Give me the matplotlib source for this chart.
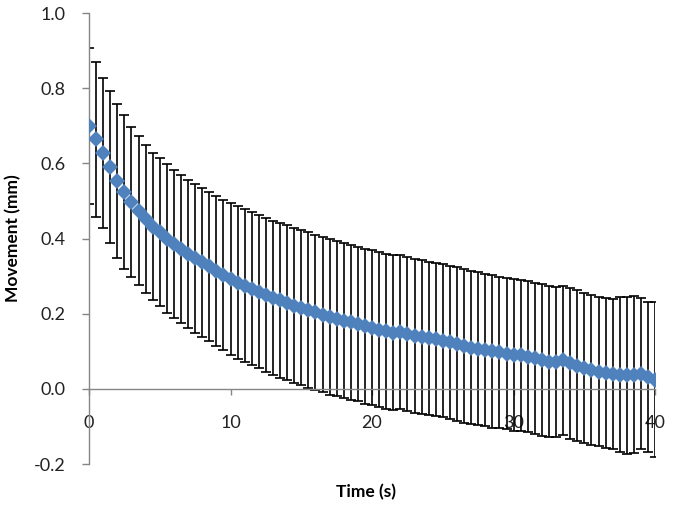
import numpy as np
from matplotlib import pyplot as plt
from matplotlib import rcParams

rcParams['font.family'] = ['Lato', 'DejaVu Sans']

# time points (s), one every 0.5 s
time = np.arange(0, 40.5, 0.5)

# mean movement (mm)
movement = [0.700, 0.664, 0.627, 0.590, 0.553, 0.524, 0.497, 0.474, 0.452, 0.432,
            0.418, 0.400, 0.386, 0.372, 0.360, 0.348, 0.337, 0.326, 0.314, 0.303,
            0.292, 0.283, 0.275, 0.267, 0.259, 0.251, 0.243, 0.236, 0.229, 0.222,
            0.216, 0.210, 0.204, 0.198, 0.192, 0.187, 0.182, 0.177, 0.172, 0.167,
            0.163, 0.158, 0.153, 0.150, 0.152, 0.146, 0.141, 0.138, 0.135, 0.132,
            0.128, 0.124, 0.120, 0.114, 0.110, 0.107, 0.104, 0.100, 0.097, 0.094,
            0.091, 0.089, 0.086, 0.082, 0.077, 0.073, 0.072, 0.076, 0.068, 0.062,
            0.055, 0.050, 0.046, 0.043, 0.040, 0.038, 0.036, 0.038, 0.041, 0.032,
            0.025]

# standard deviation (mm)
std_dev = [0.207, 0.206, 0.200, 0.203, 0.205, 0.206, 0.200, 0.198, 0.197, 0.196,
           0.197, 0.198, 0.197, 0.196, 0.197, 0.198, 0.199, 0.198, 0.199, 0.200,
           0.202, 0.203, 0.204, 0.203, 0.204, 0.205, 0.205, 0.206, 0.206, 0.205,
           0.206, 0.207, 0.206, 0.207, 0.207, 0.206, 0.207, 0.206, 0.205, 0.206,
           0.206, 0.207, 0.206, 0.207, 0.205, 0.206, 0.206, 0.205, 0.204, 0.203,
           0.204, 0.203, 0.204, 0.205, 0.204, 0.203, 0.202, 0.203, 0.202, 0.201,
           0.202, 0.201, 0.200, 0.201, 0.202, 0.201, 0.200, 0.199, 0.200, 0.201,
           0.200, 0.199, 0.198, 0.199, 0.200, 0.207, 0.209, 0.208, 0.201, 0.200,
           0.205]

grey = '#868686'

fig = plt.figure(figsize=(6.74, 5.05), dpi=100)
ax = fig.add_axes([0.132, 0.081, 0.840, 0.893])

ax.errorbar(time, movement, yerr=std_dev, fmt='none', ecolor='black',
            elinewidth=1.2, capsize=3.6, capthick=1.2, zorder=2)
ax.plot(time, movement, ls='none', marker='D', ms=8.3, color='#4f81bd',
        markeredgewidth=0, zorder=3)

ax.set_xlim(0, 40)
ax.set_ylim(-0.2, 1.0)
ax.set_xticks([0, 10, 20, 30, 40])
ax.set_yticks(np.arange(-0.2, 1.01, 0.2))
ax.set_yticklabels(['-0.2', '0.0', '0.2', '0.4', '0.6', '0.8', '1.0'])

ax.spines['top'].set_visible(False)
ax.spines['right'].set_visible(False)
ax.spines['bottom'].set_position(('data', 0))
for s in ('left', 'bottom'):
    ax.spines[s].set_color(grey)
    ax.spines[s].set_linewidth(1.0)
ax.tick_params(axis='y', direction='out', length=5, width=1, color=grey,
               pad=12, labelsize=13, labelcolor='#222222')
ax.tick_params(axis='x', direction='out', length=4, width=1, color=grey,
               pad=15, labelsize=13, labelcolor='#222222')

ax.set_xlabel('Time (s)', fontsize=12.5, fontweight='bold')
ax.set_ylabel('Movement (mm)', fontsize=12.5, fontweight='bold', labelpad=9)
ax.xaxis.set_label_coords(0.49, -0.045)

fig.savefig('out.png', dpi=100)
